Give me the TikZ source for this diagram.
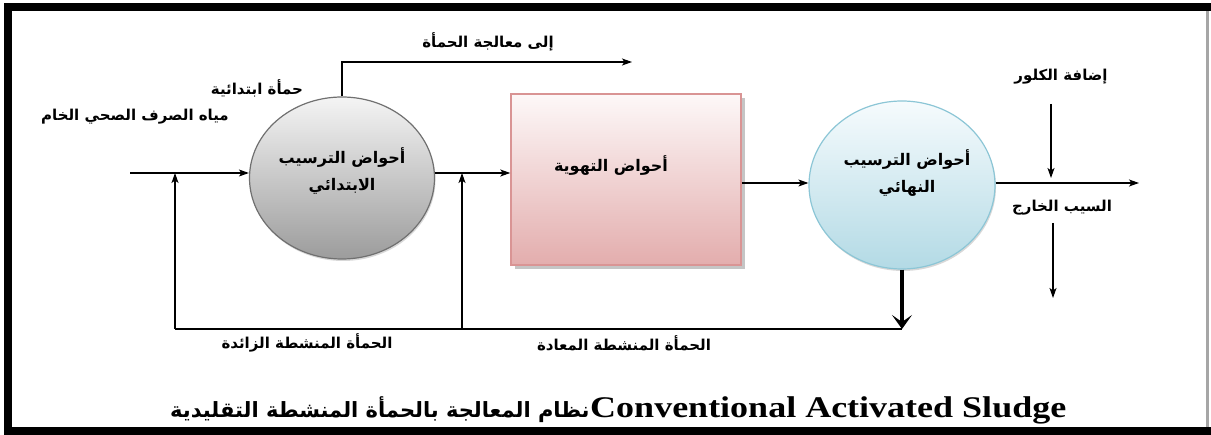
\documentclass[tikz,border=0pt]{standalone}
\usepackage{fontspec}
\setmainfont{Liberation Serif}
\newfontfamily\arabicfont[Script=Arabic]{DejaVu Sans}
\TeXXeTstate=1
\usetikzlibrary{arrows.meta,shadows,calc,shapes.geometric}
\definecolor{primtop}{HTML}{F4F4F4}
\definecolor{primbot}{HTML}{9C9C9C}
\definecolor{primedge}{HTML}{707070}
\definecolor{fintop}{HTML}{F6FBFD}
\definecolor{finbot}{HTML}{B3DAE5}
\definecolor{finedge}{HTML}{8CC6D6}
\definecolor{aertop}{HTML}{FDF8F8}
\definecolor{aerbot}{HTML}{E3ADAD}
\definecolor{aeredge}{HTML}{D99494}
\tikzset{
  lbl/.style={font=\arabicfont\bfseries\fontsize{15}{17}\selectfont, inner sep=0pt},
  tanklbl/.style={font=\arabicfont\bfseries\fontsize{16}{27}\selectfont, align=center, inner sep=0pt},
  flow/.style={line width=1.1pt, -{Stealth[length=10pt,width=7pt,inset=2.5pt]}},
  plain/.style={line width=1.1pt},
  bigflow/.style={line width=3.2pt, -{Stealth[length=14pt,width=20pt,inset=7pt]}},
}
\begin{document}
\begin{tikzpicture}[x=1pt,y=-1pt]
\useasboundingbox (0,0) rectangle (1211,435);
% frame
\fill[white] (0,0) rectangle (1211,435);
\fill[black] (4,3) rectangle (1211,11);
\fill[black] (4,3) rectangle (12,435);
\fill[black] (4,427) rectangle (1211,435);
\fill[gray!70] (1206,11) rectangle (1209,427);
% tanks
\node[ellipse, minimum width=185pt, minimum height=162pt, draw=primedge, line width=1.2pt,
  top color=primtop, bottom color=primbot, drop shadow={shadow xshift=1pt,shadow yshift=-2pt,opacity=0.3}] (prim) at (342,178) {};
\node[tanklbl] (primtxt) at (342,171) {\beginR أحواض الترسيب\endR\\\beginR الابتدائي\endR};
\node[rectangle, minimum width=230pt, minimum height=171pt, draw=aeredge, line width=1.5pt,
  top color=aertop, bottom color=aerbot, drop shadow={shadow xshift=4pt,shadow yshift=-4pt,opacity=0.45}] (aer) at (626,179.5) {};
\node[tanklbl] (aertxt) at (611,166) {\beginR أحواض التهوية\endR};
\node[ellipse, minimum width=186pt, minimum height=168pt, draw=finedge, line width=1.2pt,
  top color=fintop, bottom color=finbot, drop shadow={shadow xshift=1pt,shadow yshift=-2pt,opacity=0.3}] (fin) at (902,185) {};
\node[tanklbl] (fintxt) at (907,173) {\beginR أحواض الترسيب\endR\\\beginR النهائي\endR};
% helper coordinates
\coordinate (y1) at (0,173);
\coordinate (y2) at (0,183);
\coordinate (in) at (130,173);
\coordinate (bl) at (175,329);
\coordinate (bm) at (462,329);
\coordinate (ret) at ($(fin.south |- 0,329)$);
\coordinate (sl) at (632,62);
\coordinate (out) at (1139,183);
\coordinate (cla) at (1051,104);
\coordinate (clb) at (1051,178);
\coordinate (efa) at (1053,223);
\coordinate (efb) at (1053,298);
% connectors
\draw[flow] (in) -- (in -| prim.west);
\draw[flow] (prim.east |- y1) -- (aer.west |- y1);
\draw[flow] (aer.east |- y2) -- (fin.west |- y2);
\draw[flow] (fin.east |- y2) -- (out);
\draw[flow] (prim.north) -- (prim.north |- sl) -- (sl);
\draw[plain] (bl) -- (ret);
\draw[flow] (bl) -- (bl |- y1);
\draw[flow] (bm) -- (bm |- y1);
\draw[bigflow] (fin.south) -- (ret);
\draw[flow] (cla) -- (clb);
\draw[flow] (efa) -- (efb);
% labels
\node[lbl] (l1) at (488,42) {\beginR إلى معالجة الحمأة\endR};
\node[lbl] (l2) at (257,88) {\beginR حمأة ابتدائية\endR};
\node[lbl] (l3) at (135,117) {\beginR مياه الصرف الصحي الخام\endR};
\node[lbl] (l4) at (1061,77) {\beginR إضافة الكلور\endR};
\node[lbl] (l5) at (1062,208) {\beginR السيب الخارج\endR};
\node[lbl] (l6) at (307,343) {\beginR الحمأة المنشطة الزائدة\endR};
\node[lbl] (l7) at (624,343) {\beginR الحمأة المنشطة المعادة\endR};
% caption
\node[font=\bfseries\fontsize{30}{32}\selectfont, anchor=base west, inner sep=0pt, xscale=1.2] (capen) at (590,418) {Conventional Activated Sludge};
\node[font=\arabicfont\bfseries\fontsize{21}{24}\selectfont, anchor=base east, inner sep=0pt] (capar) at (590,418) {\beginR نظام المعالجة بالحمأة المنشطة التقليدية\endR};
\end{tikzpicture}
\end{document}
